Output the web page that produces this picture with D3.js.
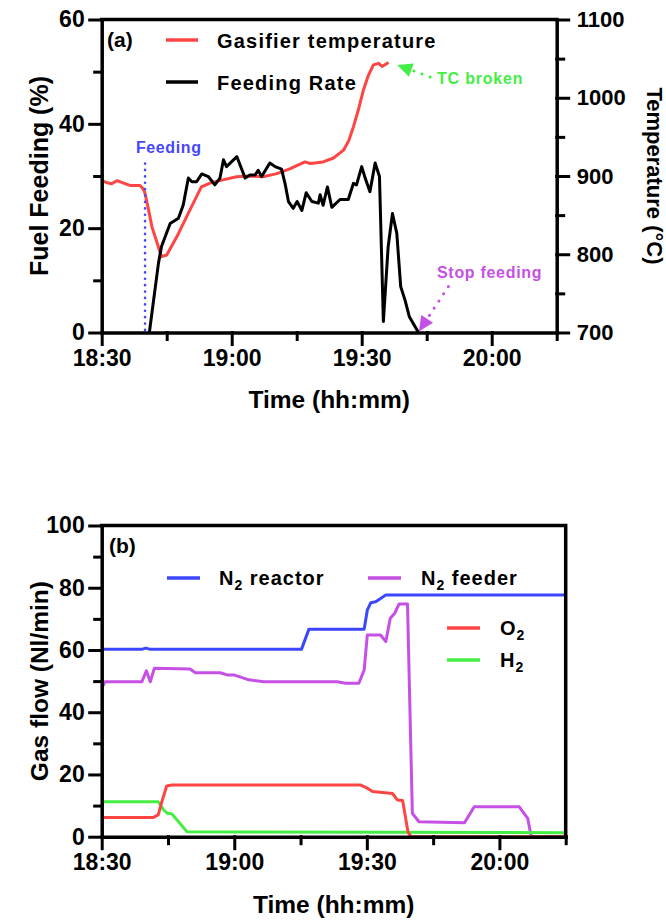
<!DOCTYPE html>
<html lang="en">
<head>
  <meta charset="UTF-8">
  <script src="https://d3js.org/d3.v7.min.js"></script>
  <style>
    body {
      margin: 0;
      background: #fff;
    }
    svg {
      display: block;
      font-family: "Liberation Sans", Arial, sans-serif;
      font-weight: bold;
    }
    .axis path, .axis line {
      stroke: #000;
      stroke-linecap: square;
    }
    .axis path { stroke-width: 3.5; }
    .axis line { stroke-width: 3; }
  </style>
</head>
<body>

<svg width="666" height="921"></svg>

<script>
  // time is minutes after 18:30
  const xTickLabels = ['18:30', '19:00', '19:30', '20:00'];

  // (a) gasifier temperature, degC
  const tempTime = [0, 1.5, 2.3, 3.5, 6.5, 8.8, 9.5, 10, 10.8, 11.6, 12.7, 13.8, 15, 17.3, 19.6, 23, 25, 28, 31.1, 34.2, 37.3, 40.4, 43.4, 46.9, 48.1, 51.1, 53.5, 55.8, 57, 58.1, 59.2, 60.4, 61.5, 62.7, 63.9, 64.7, 66.2];
  const tempVal = [894, 891, 890, 894, 888, 888, 884, 878, 857, 835, 816, 797, 799, 822, 848, 886, 891, 895, 899, 900, 899, 903, 909, 918, 916, 918, 923, 933, 945, 963, 984, 1010, 1028, 1042, 1044, 1040, 1045];

  // (a) feeding rate, %
  const feedTime = [11, 13.1, 13.8, 15.8, 17.7, 18.8, 20, 20.8, 21.9, 23.1, 24.6, 26.1, 27.3, 28.1, 28.8, 31.2, 33.1, 34.2, 35.4, 36.1, 36.9, 38.8, 40, 41.5, 42.3, 43.1, 44.2, 45.1, 46.2, 47.2, 48.5, 50, 50.4, 51.1, 52.1, 53.1, 55, 56.9, 58.1, 58.8, 60, 60.8, 61.9, 63.1, 64.1, 65, 66.1, 67.1, 68.1, 69, 70, 71, 73.1];
  const feedVal = [0, 13.3, 16.5, 20.9, 21.9, 24.4, 29.6, 28.9, 28.9, 30.4, 29.9, 28.3, 29.6, 33.1, 31.8, 33.7, 29.6, 30.2, 30.2, 31.1, 29.9, 32.5, 31.8, 31.3, 28.6, 25.1, 23.8, 25.1, 23.4, 26.8, 25.1, 24.8, 26.4, 24.4, 27.9, 24, 25.5, 25.5, 28.6, 28.3, 31.8, 29.6, 27, 32.5, 29.9, 2.1, 16.4, 22.8, 19, 8.8, 6.2, 3, 0];

  // (b) gas flows, Nl/min
  const n2rTime = [0, 9, 10, 11, 45.2, 46.9, 59.4, 60.1, 60.9, 62, 63.2, 64.3, 105];
  const n2rVal = [60.2, 60.2, 60.6, 60.2, 60.2, 66.7, 66.7, 72.8, 75.2, 75.5, 76.6, 77.7, 77.7];

  const n2fTime = [0, 0.75, 9.1, 10.1, 11, 11.9, 20, 21.2, 26.8, 28.4, 29.9, 33.3, 36.7, 53.3, 55.2, 58.2, 59.4, 60.1, 63.1, 64.3, 65.3, 66.3, 67.3, 69.2, 70.3, 71.8, 82.1, 84.3, 94.5, 96.4, 97.2, 105];
  const n2fVal = [47.7, 49.8, 49.8, 53.3, 49.8, 54.1, 53.9, 52.7, 52.7, 52, 52, 50.4, 49.8, 49.8, 49.3, 49.3, 53.6, 64.8, 64.8, 62.7, 70.2, 71.8, 74.8, 74.8, 7.5, 4.8, 4.5, 9.6, 9.6, 5.9, 0, 0];

  const o2Time = [0, 11.7, 12.8, 13.6, 14.7, 15.9, 58.6, 60.1, 61.3, 65.8, 66.9, 68.1, 69.3, 70, 105];
  const o2Val = [6.2, 6.2, 7, 11.2, 16.3, 16.6, 16.6, 15.6, 14.5, 13.9, 11.8, 11.6, 1.6, 0, 0];

  const h2Time = [0, 12.8, 14, 14.9, 15.9, 19.3, 30, 105];
  const h2Val = [11.2, 11.2, 8.6, 7.5, 7.3, 1.6, 1.5, 1.3];

  const t0 = new Date(2020, 0, 1, 18, 30);
  const toDate = m => new Date(t0.getTime() + m * 60000);
  const zip = (ts, vs) => ts.map((t, i) => ({ t: toDate(t), v: vs[i] }));

  const svg = d3.select('svg');

  // scales
  const xA = d3.scaleTime().domain([t0, toDate(105)]).range([101.7, 556.7]);
  const yA = d3.scaleLinear().domain([0, 60]).range([332.5, 19.5]);
  const yT = d3.scaleLinear().domain([700, 1100]).range([332.5, 19.5]);

  const xB = d3.scaleTime().domain([t0, toDate(105)]).range([101.7, 565.7]);
  const yB = d3.scaleLinear().domain([0, 100]).range([836.7, 525.5]);

  const fmt = d3.timeFormat('%H:%M');

  function xAxis(x, y0) {
    const g = svg.append('g').attr('class', 'axis')
      .attr('transform', `translate(0,${y0})`)
      .call(d3.axisBottom(x)
        .tickValues(d3.range(0, 106, 15).map(toDate))
        .tickFormat(d => xTickLabels.includes(fmt(d)) ? fmt(d) : '')
        .tickSize(12).tickSizeOuter(0).tickPadding(5));
    g.selectAll('.tick').filter(d => !xTickLabels.includes(fmt(d)))
      .select('line').attr('y2', 7);
    g.selectAll('text').attr('font-size', 23).attr('font-family', null).attr('fill', '#000');
    return g;
  }

  function yAxisLeft(y, x0, step, labelStep) {
    const [lo, hi] = y.domain();
    const g = svg.append('g').attr('class', 'axis')
      .attr('transform', `translate(${x0},0)`)
      .call(d3.axisLeft(y)
        .tickValues(d3.range(lo, hi + 1, step))
        .tickFormat(d => d % labelStep === 0 ? d : '')
        .tickSize(12).tickSizeOuter(0).tickPadding(5));
    g.selectAll('.tick').filter(d => d % labelStep !== 0)
      .select('line').attr('x2', -7);
    g.selectAll('text').attr('font-size', 23).attr('font-family', null).attr('fill', '#000');
    return g;
  }

  function line(x, y, data, color) {
    svg.append('path')
      .datum(data)
      .attr('fill', 'none')
      .attr('stroke', color)
      .attr('stroke-width', 3)
      .attr('stroke-linejoin', 'round')
      .attr('d', d3.line().x(d => x(d.t)).y(d => y(d.v)));
  }

  function arrow(x1, y1, x2, y2, color) {
    // dotted shaft from (x1,y1) to the head at (x2,y2)
    const a = Math.atan2(y2 - y1, x2 - x1);
    const len = 15, hw = 7;
    const bx = x2 - len * Math.cos(a), by = y2 - len * Math.sin(a);
    svg.append('line')
      .attr('x1', x1).attr('y1', y1).attr('x2', bx).attr('y2', by)
      .attr('stroke', color).attr('stroke-width', 3)
      .attr('stroke-linecap', 'round').attr('stroke-dasharray', '0.1,8.5');
    const px = -Math.sin(a) * hw, py = Math.cos(a) * hw;
    svg.append('path')
      .attr('d', `M${x2},${y2}L${bx + px},${by + py}L${bx - px},${by - py}Z`)
      .attr('fill', color);
  }

  function text(x, y, str, size, color) {
    return svg.append('text')
      .attr('x', x).attr('y', y)
      .attr('font-size', size)
      .attr('fill', color || '#000')
      .text(str);
  }

  // ---------- panel (a) ----------
  const redC = '#ff4444', blackC = '#000', blueC = '#4646ff', greenC = '#44ee44', purpleC = '#c64fe6';

  line(xA, yT, zip(tempTime, tempVal), redC);
  line(xA, yA, zip(feedTime, feedVal), blackC);

  // feeding start marker
  svg.append('line')
    .attr('x1', xA(toDate(10))).attr('x2', xA(toDate(10)))
    .attr('y1', yA(32.4)).attr('y2', yA(0))
    .attr('stroke', blueC).attr('stroke-width', 2.6)
    .attr('stroke-linecap', 'round').attr('stroke-dasharray', '0.1,6.3');
  text(136, 153, 'Feeding', 16, blueC).attr('letter-spacing', 0.6);

  arrow(xA(toDate(75.8)), yT(1026.5), xA(toDate(68.2)), yT(1042), greenC);
  text(437, 84, 'TC broken', 16, greenC).attr('letter-spacing', 0.8);

  arrow(xA(toDate(80)), yA(8.8), xA(toDate(73.2)), yA(0.2), purpleC);
  text(437, 278, 'Stop feeding', 16, purpleC).attr('letter-spacing', 0.7);

  // frame top
  svg.append('line').attr('x1', 101.7).attr('x2', 556.7).attr('y1', 19.5).attr('y2', 19.5)
    .attr('stroke', '#000').attr('stroke-width', 3.5).attr('stroke-linecap', 'square');

  xAxis(xA, 332.5);
  yAxisLeft(yA, 101.7, 10, 20);

  const gR = svg.append('g').attr('class', 'axis')
    .attr('transform', 'translate(556.7,0)')
    .call(d3.axisRight(yT)
      .tickValues(d3.range(700, 1101, 50))
      .tickFormat(d => d % 100 === 0 ? d : '')
      .tickSize(12).tickSizeOuter(0).tickPadding(8));
  gR.selectAll('.tick').filter(d => d % 100 !== 0).select('line').attr('x2', 7);
  gR.selectAll('text').attr('font-size', 22).attr('font-family', null).attr('fill', '#000');

  // legend (a)
  text(107, 47, '(a)', 21);
  svg.append('line').attr('x1', 166).attr('x2', 198).attr('y1', 40).attr('y2', 40)
    .attr('stroke', redC).attr('stroke-width', 3.5);
  text(217, 48, 'Gasifier temperature', 20).attr('letter-spacing', 1.2);
  svg.append('line').attr('x1', 166).attr('x2', 198).attr('y1', 82).attr('y2', 82)
    .attr('stroke', blackC).attr('stroke-width', 3.5);
  text(217, 90, 'Feeding Rate', 20).attr('letter-spacing', 1.2);

  // axis titles (a)
  text(0, 0, 'Fuel Feeding (%)', 25)
    .attr('text-anchor', 'middle')
    .attr('transform', `translate(48,${(19.5 + 332.5) / 2}) rotate(-90)`);
  text(0, 0, 'Temperature (°C)', 22)
    .attr('text-anchor', 'middle')
    .attr('transform', `translate(647,${(19.5 + 332.5) / 2}) rotate(90)`);
  text((101.7 + 556.7) / 2, 408, 'Time (hh:mm)', 24.5).attr('text-anchor', 'middle');

  // ---------- panel (b) ----------
  line(xB, yB, zip(n2rTime, n2rVal), '#3c46ff');
  line(xB, yB, zip(n2fTime, n2fVal), purpleC);
  line(xB, yB, zip(h2Time, h2Val), greenC);
  line(xB, yB, zip(o2Time, o2Val), redC);

  // frame top + right
  svg.append('path')
    .attr('d', 'M101.7,525.5H565.7V836.7')
    .attr('fill', 'none').attr('stroke', '#000').attr('stroke-width', 3.5)
    .attr('stroke-linecap', 'square');

  xAxis(xB, 836.7);
  yAxisLeft(yB, 101.7, 10, 20);

  // legend (b)
  text(109, 553, '(b)', 21);
  function legendItem(x1, y, color, tx, main, sub, rest) {
    svg.append('line').attr('x1', x1).attr('x2', x1 + 33).attr('y1', y).attr('y2', y)
      .attr('stroke', color).attr('stroke-width', 3.5);
    const t = text(tx, y + 7, null, 20).attr('letter-spacing', 1);
    t.append('tspan').text(main);
    t.append('tspan').attr('font-size', 14).attr('dy', 5).text(sub);
    if (rest) t.append('tspan').attr('dy', -5).text(rest);
  }
  legendItem(167, 578, '#3c46ff', 219, 'N', '2', ' reactor');
  legendItem(368, 578, purpleC, 421, 'N', '2', ' feeder');
  legendItem(447, 628, redC, 500, 'O', '2', null);
  legendItem(447, 660, greenC, 500, 'H', '2', null);

  text(0, 0, 'Gas flow (Nl/min)', 24.5)
    .attr('text-anchor', 'middle')
    .attr('transform', `translate(48,${(525.5 + 836.7) / 2}) rotate(-90)`);
  text((101.7 + 565.7) / 2, 913, 'Time (hh:mm)', 24.5).attr('text-anchor', 'middle');
</script>

</body>
</html>
